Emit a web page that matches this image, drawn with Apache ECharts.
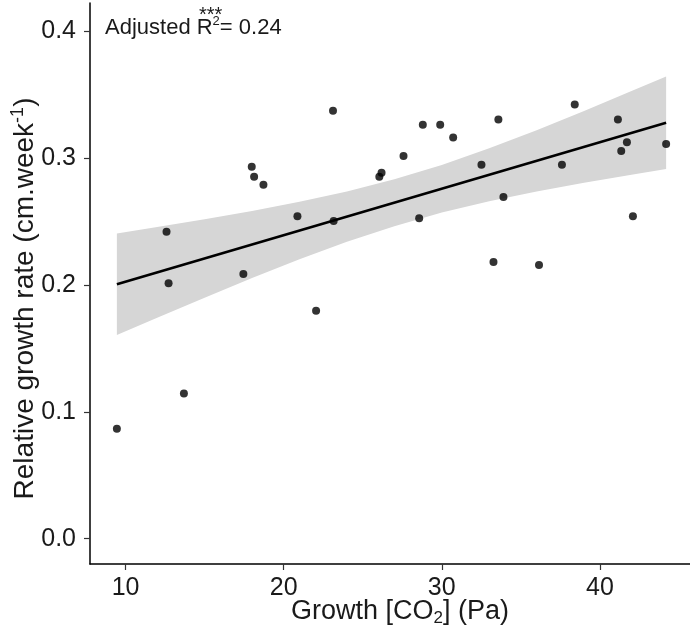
<!DOCTYPE html>
<html><head><meta charset="utf-8">
<script src="https://cdn.jsdelivr.net/npm/echarts@6/dist/echarts.min.js"></script>
<style>html,body{margin:0;padding:0;background:#fff}#c{width:690px;height:634px}</style>
</head><body><div id="c"></div>
<script>
// Observed points: growth [CO2] (Pa) vs relative growth rate
const xValues = [9.45, 12.59, 12.72, 13.69, 17.45, 17.98, 18.13, 18.72, 20.87, 22.05, 23.12, 23.16, 26.05, 26.19, 27.58, 28.57, 28.8, 29.9, 30.72, 32.51, 33.27, 33.58, 33.9, 36.15, 37.6, 38.41, 41.14, 41.35, 41.71, 42.09, 44.19];
const yValues = [0.0867, 0.242, 0.2015, 0.1145, 0.2088, 0.2934, 0.2855, 0.2792, 0.2543, 0.1797, 0.3375, 0.2506, 0.2855, 0.2887, 0.3018, 0.2527, 0.3265, 0.3265, 0.3165, 0.295, 0.2183, 0.3307, 0.2695, 0.2159, 0.295, 0.3425, 0.3307, 0.3058, 0.3126, 0.2543, 0.3113];
// Fitted line end points
const fitX = [9.45, 44.19];
const fitY = [0.2007, 0.328];
// Confidence ribbon
const bandX = [9.45, 12, 15, 18, 21, 24, 27, 30, 33, 36, 39, 42, 44.19];
const bandUpper = [0.2407, 0.2458, 0.2519, 0.2585, 0.2657, 0.2738, 0.2835, 0.2948, 0.3079, 0.3222, 0.3373, 0.3530, 0.3645];
const bandLower = [0.1607, 0.1742, 0.1901, 0.2055, 0.2203, 0.2342, 0.2465, 0.2572, 0.2661, 0.2738, 0.2807, 0.2870, 0.2915];
// Tick labels
const xTicks = [10, 20, 30, 40];
const yTicks = [0, 0.1, 0.2, 0.3, 0.4];

const FONT = 'Liberation Sans';
const TXT = '#1a1a1a';
const chart = echarts.init(document.getElementById('c'), null, {renderer: 'canvas'});
const option = {
  animation: false,
  backgroundColor: '#fff',
  grid: {left: 90, right: 0, top: 3, bottom: 70, containLabel: false, outerBoundsMode: 'none'},
  xAxis: {
    type: 'value', min: 7.75, max: 45.7,
    axisLine: {show: true, onZero: false, lineStyle: {color: '#000', width: 1.5}},
    axisTick: {show: true, length: 6, customValues: xTicks, lineStyle: {color: '#333', width: 1.2}},
    axisLabel: {customValues: xTicks, fontSize: 25, color: TXT, margin: 12, fontFamily: FONT},
    splitLine: {show: false},
    name: 'Growth [CO{sub|2}] (Pa)', nameLocation: 'middle', nameGap: 32, nameMoveOverlap: false,
    nameTextStyle: {fontSize: 27, color: TXT, fontFamily: FONT, lineHeight: 31, padding: [0, 0, 0, 20],
      rich: {sub: {fontSize: 17, lineHeight: 17, verticalAlign: 'bottom', color: TXT, fontFamily: FONT}}}
  },
  yAxis: {
    type: 'value', min: -0.02, max: 0.4225,
    axisLine: {show: true, onZero: false, lineStyle: {color: '#000', width: 1.5}},
    axisTick: {show: true, length: 6, customValues: yTicks, lineStyle: {color: '#333', width: 1.2}},
    axisLabel: {customValues: yTicks, fontSize: 25, color: TXT, margin: 14, fontFamily: FONT,
      formatter: v => Number(v).toFixed(1)},
    splitLine: {show: false},
    name: 'Relative growth rate (cm.week{sup|-1})', nameLocation: 'middle', nameGap: 49, nameRotate: 90,
    nameMoveOverlap: false,
    nameTextStyle: {fontSize: 28, color: TXT, fontFamily: FONT, lineHeight: 32, padding: [0, 30, 0, 0],
      rich: {sup: {fontSize: 18, lineHeight: 18, verticalAlign: 'top', color: TXT, fontFamily: FONT}}}
  },
  graphic: [
    {type: 'text', left: 105, top: 15, z: 10,
      style: {text: 'Adjusted R{sup|2}= 0.24', fontSize: 22, fill: TXT, fontFamily: FONT, lineHeight: 25,
        rich: {sup: {fontSize: 13, lineHeight: 20, verticalAlign: 'top', fill: TXT, fontFamily: FONT}}}},
    {type: 'text', left: 199, top: 5, z: 10,
      style: {text: '***', fontSize: 20, fill: TXT, fontFamily: FONT}}
  ],
  series: [
    {
      type: 'custom', z: 1, silent: true, clip: true,
      data: [0],
      renderItem: function (params, api) {
        const pts = [];
        for (let i = 0; i < bandX.length; i++) pts.push(api.coord([bandX[i], bandUpper[i]]));
        for (let i = bandX.length - 1; i >= 0; i--) pts.push(api.coord([bandX[i], bandLower[i]]));
        return {type: 'polygon', shape: {points: pts, smooth: 0}, style: {fill: '#d6d6d6', stroke: null}};
      }
    },
    {
      type: 'line', z: 2, symbol: 'none', silent: true,
      data: fitX.map((x, i) => [x, fitY[i]]),
      lineStyle: {color: '#000', width: 2.6}
    },
    {
      type: 'scatter', z: 3, symbol: 'circle', symbolSize: 8, silent: true,
      data: xValues.map((x, i) => [x, yValues[i]]),
      itemStyle: {color: '#000'}
    }
  ]
};
chart.setOption(option);
</script>
</body></html>
